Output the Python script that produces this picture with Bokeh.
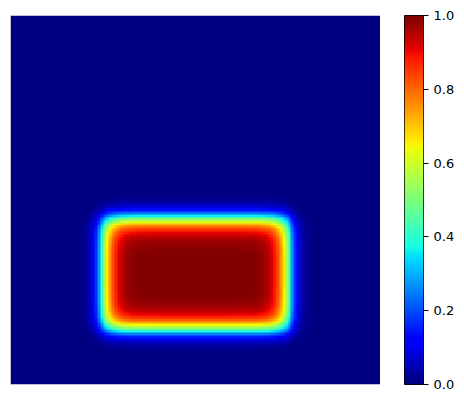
import numpy as np
from bokeh.plotting import figure
from bokeh.layouts import row
from bokeh.models import LinearColorMapper, FixedTicker, LinearAxis, Range1d, NumeralTickFormatter
from bokeh.embed import file_html
from bokeh.resources import INLINE

# ---- data description ----
grid_n = 128                      # cells per side
rect_x = [0.25, 0.75]             # half-value edges of the warm block (x)
rect_y = [0.15, 0.45]             # half-value edges of the warm block (y, upwards)
edge_width_out = 0.025            # soft edge width outside the block
edge_width_in = 0.035             # soft edge width inside the block
value_range = [0.0, 1.0]
cbar_ticks = [0.0, 0.2, 0.4, 0.6, 0.8, 1.0]

# ---- jet colour map ----
def jet_palette(n=256):
    t = np.linspace(0, 1, n)
    r = np.interp(t, [0, 0.35, 0.66, 0.89, 1], [0, 0, 1, 1, 0.5])
    g = np.interp(t, [0, 0.125, 0.375, 0.64, 0.91, 1], [0, 0, 1, 1, 0, 0])
    b = np.interp(t, [0, 0.11, 0.34, 0.65, 1], [0.5, 1, 1, 0, 0])
    return ["#%02x%02x%02x" % (int(round(rr * 255)), int(round(gg * 255)), int(round(bb * 255)))
            for rr, gg, bb in zip(r, g, b)]

def soft_step(coord, lo, hi):
    d = np.minimum(coord - lo, hi - coord)
    w = np.where(d > 0, edge_width_in, edge_width_out)
    return 0.5 * (1 + np.tanh(d / w))

centers = (np.arange(grid_n) + 0.5) / grid_n
X, Y = np.meshgrid(centers, centers)
field = soft_step(X, *rect_x) * soft_step(Y, *rect_y)

palette = jet_palette()
mapper = LinearColorMapper(palette=palette, low=value_range[0], high=value_range[1])

FRAME_H = 369

p = figure(frame_width=370, frame_height=FRAME_H, output_backend="svg", toolbar_location=None,
           x_range=(0, 1), y_range=(0, 1),
           min_border_left=10, min_border_top=15, min_border_bottom=10, min_border_right=0)
p.image(image=[field], x=0, y=0, dw=1, dh=1, color_mapper=mapper)
p.axis.visible = False
p.grid.visible = False
p.outline_line_color = None

# ---- colour bar as its own small figure ----
gradient = np.linspace(value_range[0], value_range[1], 256).reshape(256, 1)
cbf = figure(frame_width=19, frame_height=FRAME_H, output_backend="svg", toolbar_location=None,
             x_range=(0, 1), y_range=Range1d(value_range[0], value_range[1]),
             min_border_left=24, min_border_top=15, min_border_bottom=10, min_border_right=0,
             y_axis_location=None, x_axis_location=None)
cbf.image(image=[gradient], x=0, y=value_range[0], dw=1, dh=value_range[1] - value_range[0],
          color_mapper=mapper)
cbf.grid.visible = False
cbf.outline_line_color = "black"
cbf.outline_line_width = 1
ax = LinearAxis(ticker=FixedTicker(ticks=cbar_ticks), formatter=NumeralTickFormatter(format="0.0"))
ax.major_tick_out = 5
ax.major_tick_in = 0
ax.minor_tick_line_color = None
ax.axis_line_color = None
ax.major_tick_line_color = "black"
ax.major_label_standoff = 5
ax.major_label_text_font = "DejaVu Sans"
ax.major_label_text_font_size = "13px"
ax.major_label_text_color = "black"
cbf.add_layout(ax, "right")

layout = row(p, cbf, spacing=0)
open("out.html", "w").write(file_html(layout, INLINE))
